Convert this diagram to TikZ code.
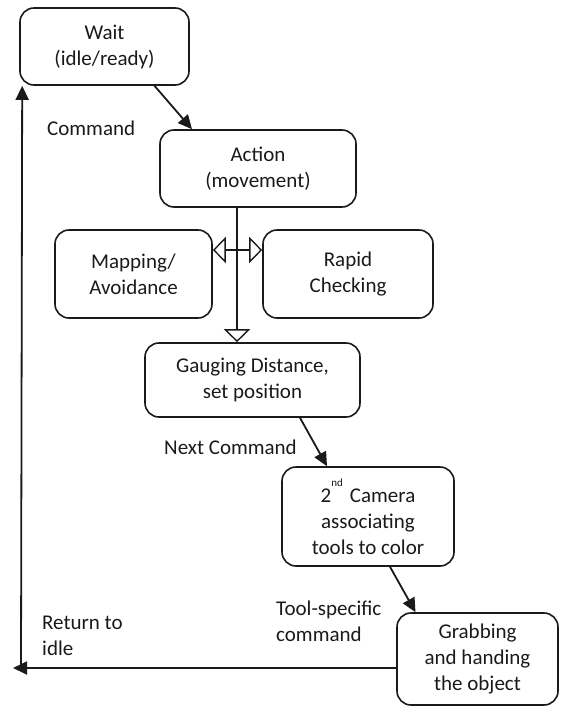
\documentclass[tikz,border=0pt]{standalone}
\usepackage{fontspec}
\setmainfont{Carlito}
\usetikzlibrary{arrows.meta}
\definecolor{ink}{HTML}{1A1A1A}
\begin{document}
\begin{tikzpicture}[x=1pt,y=-1pt,
  every node/.style={text=ink, font=\fontsize{21}{26}\selectfont},
  box/.style={draw=ink, line width=1.6pt, rounded corners=14pt, align=center, inner sep=0pt},
  lbl/.style={align=left, inner sep=0pt, anchor=west},
  conn/.style={draw=ink, line width=1.8pt},
  fillarrow/.style={conn, -{Triangle[length=14pt,width=13pt]}},
  openarrow/.style={conn, -{Triangle[open,length=13pt,width=26pt,line width=1.4pt]}}
]
\useasboundingbox (0,0) rectangle (560,706);
\node[box, minimum width=169pt, minimum height=77pt] (wait) at (104.5,46.5) {Wait\\(idle/ready)};
\node[box, minimum width=196pt, minimum height=77pt] (action) at (258,168.5) {Action\\(movement)};
\node[box, minimum width=157pt, minimum height=88pt] (mapping) at (133.5,274) {Mapping/\\Avoidance};
\node[box, minimum width=170pt, minimum height=88pt] (rapid) at (348,274) {Rapid\\Checking};
\node[box, minimum width=215pt, minimum height=74pt] (gauge) at (252.5,380) {Gauging Distance,\\set position};
\node[box, minimum width=172pt, minimum height=99pt] (camera) at (368,516.5) {2\raisebox{16pt}{\fontsize{11}{11}\selectfont nd}\,\,Camera\\associating\\tools to color};
\node[box, minimum width=161pt, minimum height=92pt] (grab) at (477.5,659) {Grabbing\\and handing\\the object};

\node[lbl] (lcmd) at (47,128) {Command};
\node[lbl] (lnext) at (164,447) {Next Command};
\node[lbl] (ltool) at (276,621) {Tool-specific\\command};
\node[lbl] (lret) at (42,636) {Return to\\idle};

\coordinate (retend) at (13,668);
\coordinate (retstart) at (21,668);

\draw[fillarrow] ([xshift=50pt]wait.south) -- ([xshift=-66pt]action.north);
\draw[openarrow] ([xshift=-21pt]action.south) -- ([xshift=-15.5pt]gauge.north);
\draw[openarrow] ([xshift=24.5pt,yshift=24pt]mapping.east) -- ([yshift=24pt]mapping.east);
\draw[openarrow] ([xshift=-25.5pt,yshift=24pt]rapid.west) -- ([yshift=24pt]rapid.west);
\draw[fillarrow] ([xshift=47.5pt]gauge.south) -- ([xshift=-41pt]camera.north);
\draw[fillarrow] ([xshift=22pt]camera.south) -- ([xshift=-62pt]grab.north);
\draw[fillarrow] ([yshift=-9pt]grab.west) -- (retend);
\draw[fillarrow] (retstart) -- ([xshift=3pt]wait.south west);
\end{tikzpicture}
\end{document}
